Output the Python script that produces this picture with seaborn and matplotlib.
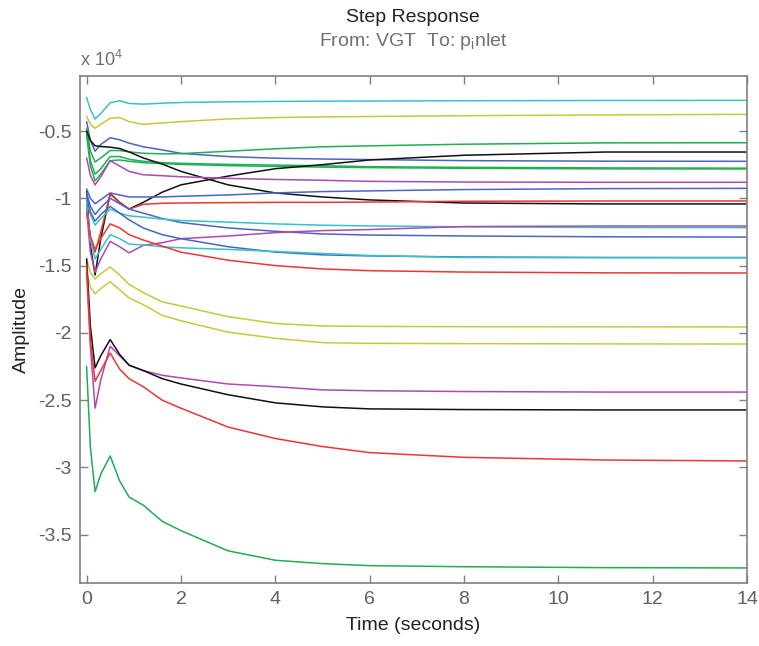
import matplotlib
matplotlib.use("Agg")
import matplotlib.pyplot as plt
import seaborn as sns
import pandas as pd

# time samples (seconds)
time_s = [0, 0.08, 0.18, 0.3, 0.5, 0.7, 0.9, 1.2, 1.6, 2, 3, 4, 5, 6, 8, 11, 14]

# amplitudes in units of 1e4 (as shown on the axis)
cyan1   = [-0.25, -0.34, -0.41, -0.37, -0.29, -0.275, -0.295, -0.30, -0.293, -0.288, -0.283, -0.28, -0.278, -0.277, -0.275, -0.273, -0.272]
yellow1 = [-0.39, -0.45, -0.48, -0.45, -0.405, -0.40, -0.43, -0.45, -0.44, -0.43, -0.41, -0.40, -0.395, -0.392, -0.386, -0.38, -0.376]
blue1   = [-0.43, -0.57, -0.65, -0.60, -0.55, -0.565, -0.59, -0.617, -0.64, -0.666, -0.69, -0.702, -0.708, -0.712, -0.72, -0.724, -0.725]
green1  = [-0.48, -0.65, -0.73, -0.70, -0.645, -0.645, -0.655, -0.665, -0.67, -0.668, -0.65, -0.632, -0.617, -0.61, -0.598, -0.588, -0.587]
green2  = [-0.50, -0.72, -0.82, -0.78, -0.69, -0.69, -0.71, -0.725, -0.735, -0.74, -0.748, -0.753, -0.758, -0.765, -0.77, -0.774, -0.776]
green3  = [-0.53, -0.76, -0.87, -0.82, -0.72, -0.715, -0.725, -0.735, -0.742, -0.748, -0.757, -0.763, -0.768, -0.772, -0.777, -0.781, -0.782]
black1  = [-0.50, -0.57, -0.61, -0.615, -0.62, -0.63, -0.655, -0.70, -0.745, -0.80, -0.90, -0.96, -0.99, -1.012, -1.035, -1.042, -1.042]
black2  = [-0.95, -1.35, -1.57, -1.30, -0.965, -1.03, -1.08, -1.03, -0.955, -0.90, -0.835, -0.78, -0.75, -0.715, -0.68, -0.656, -0.656]
magenta1 = [-0.70, -0.83, -0.90, -0.84, -0.72, -0.76, -0.80, -0.825, -0.832, -0.84, -0.852, -0.86, -0.866, -0.874, -0.879, -0.881, -0.881]
blue2   = [-0.93, -1.00, -1.04, -1.01, -0.96, -0.975, -0.99, -0.99, -0.99, -0.985, -0.975, -0.96, -0.95, -0.945, -0.935, -0.928, -0.926]
red1    = [-1.05, -1.30, -1.40, -1.25, -0.97, -1.03, -1.08, -1.045, -1.037, -1.035, -1.032, -1.03, -1.03, -1.028, -1.022, -1.02, -1.02]
blue3   = [-0.96, -1.06, -1.12, -1.07, -1.00, -1.04, -1.08, -1.11, -1.15, -1.18, -1.22, -1.245, -1.265, -1.273, -1.28, -1.286, -1.288]
cyan2   = [-1.00, -1.12, -1.20, -1.15, -1.08, -1.11, -1.13, -1.14, -1.155, -1.165, -1.177, -1.19, -1.20, -1.205, -1.212, -1.217, -1.218]
magenta2 = [-1.08, -1.40, -1.55, -1.45, -1.32, -1.36, -1.405, -1.35, -1.33, -1.30, -1.28, -1.255, -1.24, -1.232, -1.21, -1.206, -1.206]
blue4   = [-0.98, -1.10, -1.17, -1.12, -1.06, -1.11, -1.16, -1.22, -1.27, -1.30, -1.36, -1.40, -1.42, -1.428, -1.436, -1.44, -1.441]
cyan3   = [-1.05, -1.30, -1.45, -1.38, -1.27, -1.30, -1.34, -1.347, -1.36, -1.368, -1.38, -1.395, -1.41, -1.425, -1.44, -1.441, -1.441]
red2    = [-1.10, -1.28, -1.38, -1.30, -1.19, -1.22, -1.27, -1.31, -1.355, -1.40, -1.46, -1.50, -1.525, -1.538, -1.548, -1.554, -1.555]
yellow2 = [-1.45, -1.55, -1.60, -1.56, -1.51, -1.57, -1.64, -1.70, -1.77, -1.80, -1.88, -1.93, -1.949, -1.952, -1.954, -1.955, -1.956]
yellow3 = [-1.55, -1.66, -1.71, -1.67, -1.62, -1.68, -1.74, -1.79, -1.87, -1.91, -1.995, -2.04, -2.073, -2.078, -2.08, -2.082, -2.083]
magenta3 = [-1.55, -2.10, -2.56, -2.35, -2.10, -2.17, -2.24, -2.28, -2.315, -2.335, -2.38, -2.40, -2.424, -2.43, -2.436, -2.44, -2.44]
black3  = [-1.45, -1.95, -2.26, -2.17, -2.05, -2.16, -2.24, -2.28, -2.34, -2.38, -2.46, -2.52, -2.55, -2.565, -2.57, -2.573, -2.573]
red3    = [-1.50, -2.05, -2.36, -2.28, -2.15, -2.27, -2.34, -2.40, -2.50, -2.56, -2.70, -2.785, -2.845, -2.89, -2.925, -2.945, -2.952]
green4  = [-2.25, -2.85, -3.18, -3.05, -2.915, -3.10, -3.22, -3.28, -3.40, -3.47, -3.62, -3.69, -3.715, -3.73, -3.738, -3.745, -3.747]

series = {
    "cyan1": cyan1, "yellow1": yellow1, "blue1": blue1, "green1": green1,
    "green2": green2, "green3": green3, "black1": black1, "black2": black2,
    "magenta1": magenta1, "blue2": blue2, "red1": red1, "blue3": blue3,
    "cyan2": cyan2, "magenta2": magenta2, "blue4": blue4, "cyan3": cyan3,
    "red2": red2, "yellow2": yellow2, "yellow3": yellow3, "magenta3": magenta3,
    "black3": black3, "red3": red3, "green4": green4,
}

base_colors = {
    "cyan": "#33c4c8", "yellow": "#c8c83a", "blue": "#4a64c4", "green": "#1fae52",
    "black": "#111111", "magenta": "#b048b4", "red": "#f03434",
}
palette = {name: base_colors[name.rstrip("0123456789")] for name in series}

df = pd.concat(
    [pd.DataFrame({"time": time_s, "amp": vals, "curve": name}) for name, vals in series.items()],
    ignore_index=True,
)

x_ticks = [0, 2, 4, 6, 8, 10, 12, 14]
y_ticks = [-3.5, -3, -2.5, -2, -1.5, -1, -0.5]
y_tick_labels = ["-3.5", "-3", "-2.5", "-2", "-1.5", "-1", "-0.5"]

sns.set_theme(style="white")
plt.rcParams["font.family"] = ["Liberation Sans", "DejaVu Sans"]

fig = plt.figure(figsize=(7.59, 6.46), dpi=100)
ax = fig.add_axes([80 / 759, 63 / 646, 667 / 759, 507 / 646])

sns.lineplot(data=df, x="time", y="amp", hue="curve", palette=palette,
             estimator=None, sort=False, legend=False, linewidth=1.1, ax=ax)

ax.set_xlim(-0.14, 14)
ax.set_ylim(-3.859, -0.091)
ax.set_xticks(x_ticks)
ax.set_xticklabels([str(v) for v in x_ticks])
ax.set_yticks(y_ticks)
ax.set_yticklabels(y_tick_labels)

gray = "#808080"
for sp in ax.spines.values():
    sp.set_color(gray)
    sp.set_linewidth(1.2)
ax.tick_params(direction="in", length=6, width=1, color=gray, labelcolor="#606060",
               labelsize=14, top=True, right=True, bottom=True, left=True, pad=6)

ax.set_xlabel("Time (seconds)", fontsize=14, color="#222222", labelpad=6)
ax.set_ylabel("Amplitude", fontsize=14, color="#222222", labelpad=6)

fig.text(413 / 759, 1 - 17 / 646, "Step Response", ha="center", va="center",
         fontsize=14, color="#222222")
fig.text(413 / 759, 1 - 42 / 646, r"From: VGT  To: p$\mathregular{_i}$nlet", ha="center",
         va="center", fontsize=14, color="#707070")
fig.text(80 / 759, 1 - 60 / 646, r"x 10$\mathregular{^4}$", ha="left", va="center",
         fontsize=13, color="#707070")

fig.savefig("out.png", dpi=100, facecolor="white")
